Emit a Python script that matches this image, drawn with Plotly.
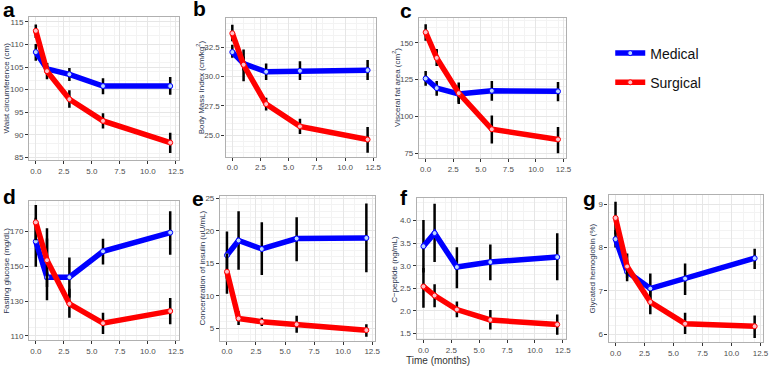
import plotly.graph_objects as go

# ---------------- data ----------------
time_months = [0, 1, 3, 6, 12]
groups = ["Medical", "Surgical"]
panel_letters = ["a", "b", "c", "d", "e", "f", "g"]
y_titles = [
    "Waist circumference (cm)",
    "Body Mass Index (cm/kg<sup>2</sup>)",
    "Visceral fat area (cm<sup>2</sup>)",
    "Fasting glucose (mg/dL)",
    "Concentration of insulin (uU/mL)",
    "C\u2212peptide (ng/mL)",
    "Glycated hemoglobin (%)",
]
x_ticks = [0.0, 2.5, 5.0, 7.5, 10.0, 12.5]
y_ticks = [
    [85, 90, 95, 100, 105, 110, 115],
    [25.0, 27.5, 30.0, 32.5],
    [75, 100, 125, 150],
    [110, 130, 150, 170],
    [5, 10, 15, 20, 25],
    [1.5, 2.0, 2.5, 3.0, 3.5, 4.0],
    [6, 7, 8, 9],
]
y_tick_labels = [
    ["85", "90", "95", "100", "105", "110", "115"],
    ["25.0", "27.5", "30.0", "32.5"],
    ["75", "100", "125", "150"],
    ["110", "130", "150", "170"],
    ["5", "10", "15", "20", "25"],
    ["1.5", "2.0", "2.5", "3.0", "3.5", "4.0"],
    ["6", "7", "8", "9"],
]

a_med = [108.3, 104.6, 103.4, 100.8, 100.8]
a_med_lo = [106.4, 103.4, 101.9, 99.0, 98.9]
a_med_hi = [110.1, 105.9, 104.8, 102.5, 102.8]
a_sur = [113.0, 104.1, 97.9, 93.1, 88.3]
a_sur_lo = [111.4, 102.3, 96.0, 91.4, 86.0]
a_sur_hi = [114.4, 105.9, 99.9, 94.8, 90.5]

b_med = [32.08, 31.1, 30.4, 30.48, 30.54]
b_med_lo = [31.6, 30.5, 29.7, 29.7, 29.7]
b_med_hi = [32.7, 31.7, 31.1, 31.3, 31.4]
b_sur = [33.68, 31.0, 27.65, 25.75, 24.63]
b_sur_lo = [33.0, 29.6, 27.1, 25.1, 23.5]
b_sur_hi = [34.4, 32.3, 28.2, 26.4, 25.7]

c_med = [125.7, 119.2, 115.2, 117.4, 117.0]
c_med_lo = [120.8, 114.1, 109.5, 110.7, 110.3]
c_med_hi = [130.8, 124.1, 121.0, 124.1, 123.4]
c_sur = [157.1, 139.7, 115.8, 91.3, 84.4]
c_sur_lo = [151.3, 134.2, 108.5, 81.7, 75.0]
c_sur_hi = [162.5, 145.8, 123.0, 100.7, 92.9]

d_med = [164.3, 143.7, 143.7, 158.6, 169.4]
d_med_lo = [149.7, 130.4, 132.0, 151.0, 156.7]
d_med_hi = [178.0, 166.0, 155.0, 165.8, 181.7]
d_sur = [175.3, 153.5, 128.4, 117.2, 124.2]
d_sur_lo = [165.0, 138.0, 120.4, 111.0, 116.6]
d_sur_hi = [185.3, 171.9, 137.0, 123.2, 131.8]

e_med = [16.24, 18.5, 17.2, 18.8, 18.9]
e_med_lo = [12.6, 14.0, 13.2, 15.3, 13.6]
e_med_hi = [19.9, 23.0, 21.3, 22.1, 24.2]
e_sur = [13.7, 6.5, 6.0, 5.6, 4.7]
e_sur_lo = [10.3, 5.5, 5.35, 4.3, 3.7]
e_sur_hi = [16.5, 7.6, 6.6, 6.9, 5.6]

f_med = [3.43, 3.72, 2.97, 3.08, 3.19]
f_med_lo = [2.85, 3.08, 2.5, 2.68, 2.68]
f_med_hi = [4.01, 4.37, 3.41, 3.47, 3.72]
f_sur = [2.54, 2.34, 2.03, 1.80, 1.70]
f_sur_lo = [2.07, 2.08, 1.86, 1.59, 1.47]
f_sur_hi = [2.95, 2.59, 2.21, 2.02, 1.92]

g_med = [8.19, 7.44, 7.05, 7.28, 7.75]
g_med_lo = [8.0, 7.22, 6.7, 6.90, 7.5]
g_med_hi = [8.4, 7.66, 7.4, 7.63, 7.97]
g_sur = [8.68, 7.56, 6.74, 6.24, 6.18]
g_sur_lo = [8.3, 7.3, 6.46, 6.0, 5.91]
g_sur_hi = [9.05, 7.86, 7.0, 6.49, 6.43]

panels_data = [
    (a_med, a_med_lo, a_med_hi, a_sur, a_sur_lo, a_sur_hi),
    (b_med, b_med_lo, b_med_hi, b_sur, b_sur_lo, b_sur_hi),
    (c_med, c_med_lo, c_med_hi, c_sur, c_sur_lo, c_sur_hi),
    (d_med, d_med_lo, d_med_hi, d_sur, d_sur_lo, d_sur_hi),
    (e_med, e_med_lo, e_med_hi, e_sur, e_sur_lo, e_sur_hi),
    (f_med, f_med_lo, f_med_hi, f_sur, f_sur_lo, f_sur_hi),
    (g_med, g_med_lo, g_med_hi, g_sur, g_sur_lo, g_sur_hi),
]

# ---------------- layout config (pixels) ----------------
W, H = 776, 371
# panel boxes: left, right, top, bottom (pixels)
boxes = [
    (29.3, 180.0, 15.0, 160.0),
    (227.3, 379.0, 16.7, 156.7),
    (422.3, 570.7, 16.0, 158.0),
    (29.3, 180.0, 201.7, 342.7),
    (221.7, 378.0, 196.7, 343.3),
    (420.0, 570.0, 199.0, 342.0),
    (613.3, 769.3, 196.0, 345.0),
]
y_ranges = [
    [84.5, 116.1],
    [23.18, 34.94],
    [71.9, 166.9],
    [107.5, 187.6],
    [3.08, 25.35],
    [1.37, 4.49],
    [5.81, 9.2],
]
x_range = [-0.6, 12.75]
ytitle_offsets = [23, 26, 23, 23, 18, 22, 16]
letter_pos = [(1, -6), (192, -7), (401, -5), (1, 183), (191, 185), (401, 184), (586, 185)]

colors = {"Medical": "#0000ff", "Surgical": "#ff0000"}
marker_fill = {"Medical": "#bcd8ff", "Surgical": "#ffc0c8"}

tick_font = dict(family="Liberation Sans, Arial, sans-serif", size=8, color="#4d4d4d")
title_font = dict(family="Liberation Sans, Arial, sans-serif", size=8, color="#2a3550")

fig = go.Figure()
layout = {}
annotations = []

for i, data in enumerate(panels_data):
    n = i + 1
    xa = "x" if n == 1 else f"x{n}"
    ya = "y" if n == 1 else f"y{n}"
    xk = "xaxis" if n == 1 else f"xaxis{n}"
    yk = "yaxis" if n == 1 else f"yaxis{n}"
    series = [(groups[0], data[0], data[1], data[2]), (groups[1], data[3], data[4], data[5])]
    for g, mean, lo, hi in series:
        fig.add_trace(go.Scatter(
            x=time_months, y=mean, xaxis=xa, yaxis=ya,
            mode="lines+markers", name=g, legendgroup=g,
            showlegend=(i == 0),
            line=dict(color=colors[g], width=5.5),
            marker=dict(size=5, color=marker_fill[g], line=dict(color=colors[g], width=1)),
            error_y=dict(type="data", symmetric=False,
                         array=[h - m for h, m in zip(hi, mean)],
                         arrayminus=[m - l for m, l in zip(mean, lo)],
                         color="black", thickness=2.5, width=0),
        ))
    l, r, t, b = boxes[i]
    common = dict(
        showgrid=True, gridcolor="#e6e6e6", gridwidth=0.8,
        showline=True, mirror=True, linecolor="#b0b0b0", linewidth=1.2,
        ticks="outside", ticklen=3, tickwidth=1, tickcolor="#333333",
        tickfont=tick_font, zeroline=False,
        minor=dict(showgrid=True, gridcolor="#f3f3f3", gridwidth=0.5),
    )
    layout[xk] = dict(common, domain=[l / W, r / W], range=x_range, anchor=ya,
                      tickvals=x_ticks, ticktext=[f"{v:.1f}" for v in x_ticks])
    layout[yk] = dict(common, domain=[1 - b / H, 1 - t / H], range=y_ranges[i], anchor=xa,
                      tickvals=y_ticks[i], ticktext=y_tick_labels[i])
    annotations.append(dict(
        text=y_titles[i], textangle=-90, font=title_font,
        xref="paper", yref="paper", x=(l - ytitle_offsets[i]) / W, y=1 - (t + b) / 2 / H,
        xanchor="center", yanchor="middle", showarrow=False,
    ))
    lx, ly = letter_pos[i]
    annotations.append(dict(
        text=f"<b>{panel_letters[i]}</b>",
        font=dict(family="Liberation Sans, Arial, sans-serif", size=21, color="black"),
        xref="paper", yref="paper", x=lx / W, y=1 - ly / H,
        xanchor="left", yanchor="top", showarrow=False,
    ))

annotations.append(dict(
    text="Time (months)", font=dict(family="Liberation Sans, Arial, sans-serif", size=10, color="#333333"),
    xref="paper", yref="paper", x=441.5 / W, y=1 - 363 / H,
    xanchor="center", yanchor="middle", showarrow=False, borderpad=0,
))

fig.update_layout(
    width=W, height=H,
    margin=dict(l=0, r=0, t=0, b=0),
    paper_bgcolor="white", plot_bgcolor="white",
    showlegend=True,
    legend=dict(x=615 / W, y=1 - 36 / H, xanchor="left", yanchor="top",
                font=dict(family="Liberation Sans, Arial, sans-serif", size=14, color="#111111"),
                tracegroupgap=8, itemwidth=30, bgcolor="rgba(0,0,0,0)"),
    annotations=annotations,
    **layout,
)

fig.write_html("out.html", config={"displayModeBar": False},
               post_script="document.body.style.margin='0px';")
